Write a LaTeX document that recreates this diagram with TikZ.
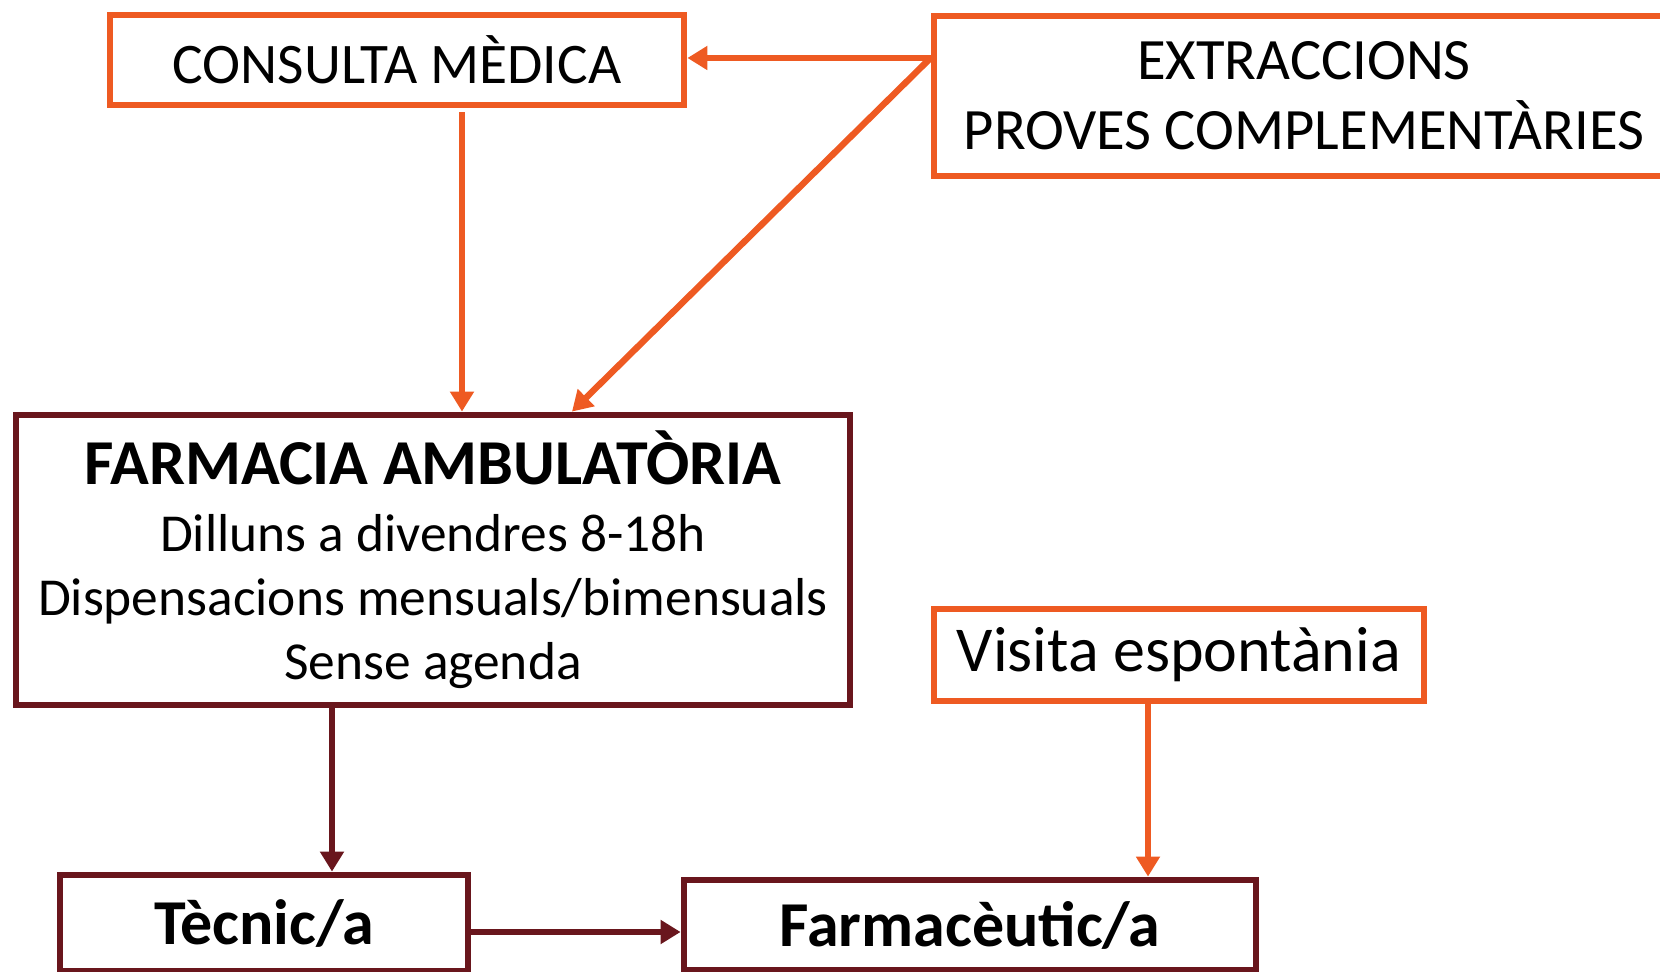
\documentclass[tikz,border=0pt]{standalone}
\usepackage{fontspec}
\setmainfont{Carlito}
\usetikzlibrary{arrows.meta}
\tikzset{>={Triangle[width=11.5pt,length=10pt]}}
\definecolor{orangebox}{HTML}{EE5A22}
\definecolor{darkred}{HTML}{69161D}

\tikzset{
  obox/.style={draw=orangebox, line width=3.4pt, fill=white, align=center, inner sep=0pt},
  rbox/.style={draw=darkred, line width=3.4pt, fill=white, align=center, inner sep=0pt},
  oarrow/.style={->, draw=orangebox, fill=orangebox, line width=3.2pt},
  rarrow/.style={->, draw=darkred, fill=darkred, line width=3.2pt},
}

\begin{document}
\begin{tikzpicture}[x=0.5pt,y=-0.5pt]

  \useasboundingbox (0,0) rectangle (1660,972);

  \node[obox, minimum width=287pt, minimum height=45pt,
  font=\fontsize{28.7}{32}\selectfont] (cons) at (397,60) {CONSULTA MÈDICA};
  \node[obox, minimum width=370pt, minimum height=80pt,
  font=\fontsize{29.3}{35}\selectfont] (extr) at (1304,96)
  {EXTRACCIONS\\PROVES COMPLEMENTÀRIES};

  \node[rbox, minimum width=417pt, minimum height=145pt,
  font=\fontsize{26.7}{32}\selectfont] (farm) at (433,560)
  {{\fontsize{32}{34}\selectfont\bfseries FARMACIA AMBULATÒRIA}\\[1.5pt]
   Dilluns a divendres 8-18h\\
   Dispensacions mensuals/bimensuals\\
   Sense agenda};

  \node[obox, minimum width=245pt, minimum height=46pt,
  font=\fontsize{32}{36}\selectfont] (visita) at (1179,655) {Visita espontània};

  \node[rbox, minimum width=204pt, minimum height=48pt,
  font=\fontsize{32}{36}\selectfont\bfseries] (tec) at (264,923) {Tècnic/a};
  \node[rbox, minimum width=286pt, minimum height=45pt,
  font=\fontsize{32}{36}\selectfont\bfseries] (farmac) at (970,925) {Farmacèutic/a};

  %% extraccions -> consulta, farmacia
  \draw[oarrow] ([yshift=19pt]extr.west) -- ([yshift=19pt]extr.west -| cons.east);
  \draw[oarrow] ([yshift=19pt]extr.west) -- ([xshift=69.5pt]farm.north);
  %% consulta -> farmacia
  \draw[oarrow] ([xshift=32.5pt,yshift=-2pt]cons.south)
  -- ([xshift=32.5pt]cons.south |- farm.north);
  %% farmacia -> tecnic
  \draw[rarrow] ([xshift=34pt]tec.north |- farm.south) -- ([xshift=34pt]tec.north);
  %% tecnic -> farmaceutic
  \draw[rarrow] ([yshift=-4.5pt]tec.east) -- ([yshift=-4.5pt]tec.east -| farmac.west);
  %% visita -> farmaceutic
  \draw[oarrow] ([xshift=-15.5pt]visita.south) -- ([xshift=-15.5pt]visita.south |- farmac.north);

\end{tikzpicture}
\end{document}
